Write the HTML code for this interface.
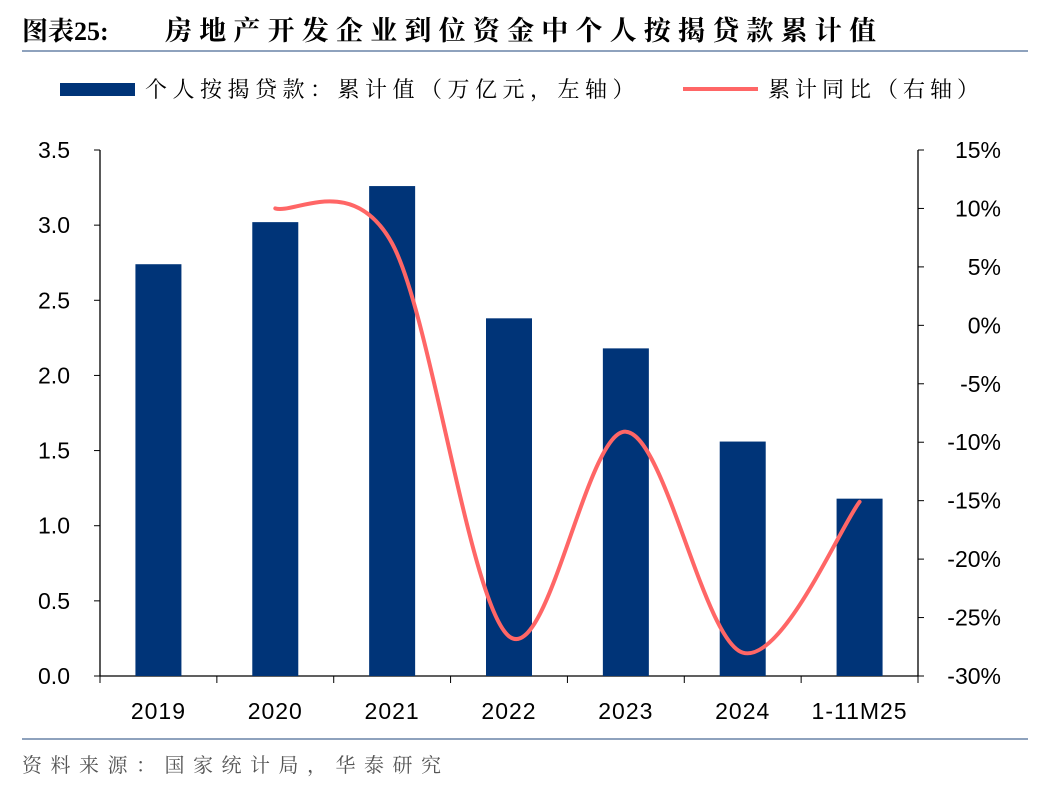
<!DOCTYPE html>
<html><head><meta charset="utf-8"><style>
body{margin:0;background:#fff;width:1048px;height:792px;overflow:hidden;font-family:"Liberation Sans","Noto Sans CJK SC",sans-serif;}
</style></head><body>
<svg id="c" width="1048" height="792" xmlns="http://www.w3.org/2000/svg" font-family="'Liberation Sans','Noto Sans CJK SC',sans-serif">
<text x="22" y="40" font-size="26" font-weight="bold" fill="#000" font-family="'Liberation Serif','Noto Serif CJK SC',serif">图表25:</text>
<text x="165" y="40" font-size="27" font-weight="bold" fill="#000" letter-spacing="7.2" font-family="'Liberation Serif','Noto Serif CJK SC',serif">房地产开发企业到位资金中个人按揭贷款累计值</text>
<line x1="22" y1="51" x2="1028" y2="51" stroke="#8ea2bd" stroke-width="2"/>
<g font-family="'Liberation Serif','Noto Serif CJK SC',serif">
<rect x="60" y="83" width="75" height="13" fill="#003478"/>
<text x="145" y="97" font-size="22" fill="#000" letter-spacing="5.5">个人按揭贷款：累计值（万亿元，左轴）</text>
<line x1="683" y1="89" x2="758" y2="89" stroke="#ff6666" stroke-width="4"/>
<text x="768" y="97" font-size="22" fill="#000" letter-spacing="5">累计同比（右轴）</text>
</g>
<g id="plot"></g>
<line x1="22" y1="739" x2="1028" y2="739" stroke="#8ea2bd" stroke-width="2"/>
<text x="22" y="772" font-size="20" fill="#555" letter-spacing="8.5" font-family="'Liberation Serif','Noto Serif CJK SC',serif">资料来源：国家统计局，华泰研究</text>
</svg>
<script>
const categories=["2019","2020","2021","2022","2023","2024","1-11M25"];
const loanValues=[2.74,3.02,3.26,2.38,2.18,1.56,1.18];
const yoyValues=[null,10.0,7.0,-26.6,-9.1,-28.0,-15.1];
const leftTicks=["0.0","0.5","1.0","1.5","2.0","2.5","3.0","3.5"];
const rightTicks=["-30%","-25%","-20%","-15%","-10%","-5%","0%","5%","10%","15%"];
const NS="http://www.w3.org/2000/svg";
const g=document.getElementById('plot');
const X0=100,X1=918,Y0=676,Y1=150;
const band=(X1-X0)/categories.length;
const xc=i=>X0+band*(i+0.5);
const yl=v=>Y0-(v/3.5)*(Y0-Y1);
const yr=v=>Y0-((v+30)/45)*(Y0-Y1);
function mk(t,a){const e=document.createElementNS(NS,t);for(const k in a)e.setAttribute(k,a[k]);g.appendChild(e);return e;}
let e=mk('line',{x1:X0,y1:Y1,x2:X0,y2:Y0,stroke:'#000','stroke-width':1.3});


e=mk('line',{x1:X1,y1:Y1,x2:X1,y2:Y0,stroke:'#000','stroke-width':1.3});


e=mk('line',{x1:X0,y1:Y0,x2:X1,y2:Y0,stroke:'#000','stroke-width':1.3});


leftTicks.forEach((t,i)=>{const v=parseFloat(t),y=yl(v);
 mk('line',{x1:X0-6,y1:y,x2:X0,y2:y,stroke:'#000'});
 const tx=mk('text',{x:X0-30,y:y+8,'font-size':23,'text-anchor':'end'});tx.textContent=t;
 
 });
rightTicks.forEach((t,i)=>{const v=parseFloat(t),y=yr(v);
 mk('line',{x1:X1,y1:y,x2:X1+6,y2:y,stroke:'#000'});
 const tx=mk('text',{x:1001,y:y+8,'font-size':23,'text-anchor':'end'});tx.textContent=t;
 
 });
categories.forEach((c,i)=>{
 const tx0=X0+band*i; mk('line',{x1:tx0,y1:Y0,x2:tx0,y2:Y0+7,stroke:'#000'});
 const b=mk('rect',{x:xc(i)-23,y:yl(loanValues[i]),width:46,height:Y0-yl(loanValues[i]),fill:'#003478'});
 
 
 const tx=mk('text',{x:xc(i),y:719,'font-size':23,'text-anchor':'middle','letter-spacing':1});tx.textContent=c;
 
 });
mk('line',{x1:X1,y1:Y0,x2:X1,y2:Y0+7,stroke:'#000'});
const pts=[];yoyValues.forEach((v,i)=>{if(v!==null)pts.push([xc(i),yr(v)]);});
let d='M'+pts[0][0]+','+pts[0][1];
for(let i=0;i<pts.length-1;i++){const p0=pts[Math.max(0,i-1)],p1=pts[i],p2=pts[i+1],p3=pts[Math.min(pts.length-1,i+2)];
 const c1=[p1[0]+(p2[0]-p0[0])/6,p1[1]+(p2[1]-p0[1])/6],c2=[p2[0]-(p3[0]-p1[0])/6,p2[1]-(p3[1]-p1[1])/6];
 d+=` C${c1[0]},${c1[1]} ${c2[0]},${c2[1]} ${p2[0]},${p2[1]}`;}
const ln=mk('path',{d:d,fill:'none',stroke:'#ff6666','stroke-width':4,'stroke-linecap':'round'});


</script>
</body></html>
